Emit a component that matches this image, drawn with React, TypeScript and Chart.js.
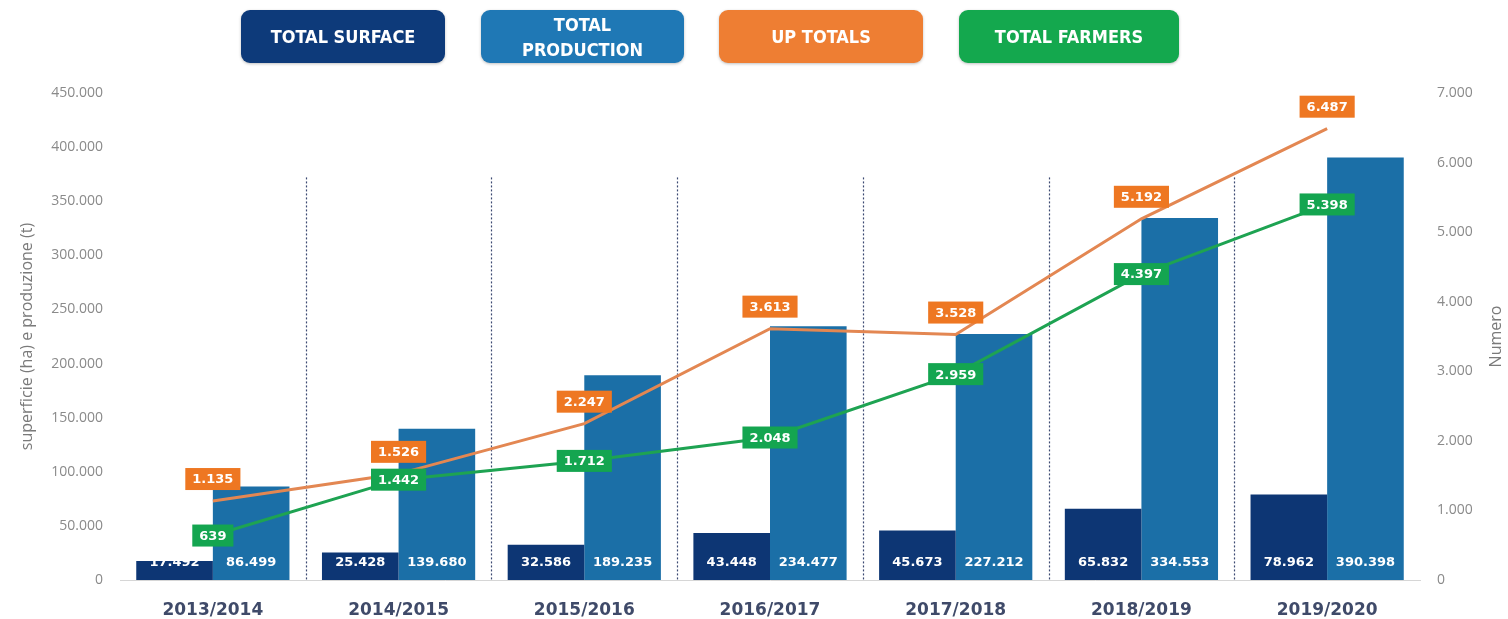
import React, { useEffect, useRef } from "react";
import { Chart, registerables } from "chart.js";

Chart.register(...registerables);

const categories = ["2013/2014", "2014/2015", "2015/2016", "2016/2017", "2017/2018", "2018/2019", "2019/2020"];
const totalSurface = [17492, 25428, 32586, 43448, 45673, 65832, 78962];
const totalProduction = [86499, 139680, 189235, 234477, 227212, 334553, 390398];
const upTotals = [1135, 1526, 2247, 3613, 3528, 5192, 6487];
const totalFarmers = [639, 1442, 1712, 2048, 2959, 4397, 5398];

const seriesNames = ["TOTAL SURFACE", "TOTAL PRODUCTION", "UP TOTALS", "TOTAL FARMERS"];
const legendLabels = ["TOTAL SURFACE", "TOTAL\nPRODUCTION", "UP TOTALS", "TOTAL FARMERS"];
const legendColors = ["#0D3A7A", "#1F78B5", "#EE7E33", "#14A84E"];

const leftTitle = "superficie (ha) e produzione (t)";
const rightTitle = "Numero";

const fmt = (n: number) => String(n).replace(/\B(?=(\d{3})+(?!\d))/g, ".");

const separatorPlugin = {
  id: "separators",
  beforeDatasetsDraw(chart: any) {
    const { ctx, chartArea, scales } = chart;
    const x = scales.x;
    const yTop = scales.y.getPixelForValue(372000);
    ctx.save();
    ctx.strokeStyle = "#3C4A72";
    ctx.lineWidth = 1.2;
    ctx.setLineDash([2, 2]);
    for (let i = 1; i < categories.length; i++) {
      const px = Math.round((x.getPixelForValue(i - 1) + x.getPixelForValue(i)) / 2) + 0.5;
      ctx.beginPath();
      ctx.moveTo(px, yTop);
      ctx.lineTo(px, chartArea.bottom);
      ctx.stroke();
    }
    ctx.restore();
  },
};

const labelPlugin = {
  id: "valueLabels",
  afterDatasetsDraw(chart: any) {
    const ctx = chart.ctx;
    ctx.save();
    ctx.font = "bold 13px 'DejaVu Sans'";
    ctx.textAlign = "center";
    ctx.textBaseline = "middle";
    chart.data.datasets.forEach((ds: any, i: number) => {
      const meta = chart.getDatasetMeta(i);
      meta.data.forEach((el: any, j: number) => {
        const txt = fmt(ds.data[j]);
        if (ds.type === "line") {
          const w = ctx.measureText(txt).width + 14;
          const h = 22;
          const cy = ds.labelAbove ? el.y - 22 : el.y;
          ctx.fillStyle = ds.labelBg;
          ctx.fillRect(el.x - w / 2, cy - h / 2, w, h);
          ctx.fillStyle = "#FFFFFF";
          ctx.fillText(txt, el.x, cy + 1);
        } else {
          ctx.fillStyle = "#FFFFFF";
          ctx.fillText(txt, el.x, el.base - 17);
        }
      });
    });
    ctx.restore();
  },
};

const rightTitlePlugin = {
  id: "rightTitle",
  afterDraw(chart: any) {
    const { ctx, chartArea } = chart;
    ctx.save();
    ctx.translate(1496, (chartArea.top + chartArea.bottom) / 2);
    ctx.rotate(-Math.PI / 2);
    ctx.font = "16px 'Open Sans'";
    ctx.fillStyle = "#7A7A7A";
    ctx.textAlign = "center";
    ctx.textBaseline = "middle";
    ctx.fillText(rightTitle, 0, 0);
    ctx.restore();
  },
};

const legendBoxes = [
  { left: 241, width: 204 },
  { left: 481, width: 203 },
  { left: 719, width: 204 },
  { left: 959, width: 220 },
];

export default function App() {
  const ref = useRef<HTMLCanvasElement>(null);

  useEffect(() => {
    if (!ref.current) return;
    const chart = new Chart(ref.current, {
      type: "bar",
      data: {
        labels: categories,
        datasets: [
          {
            type: "line",
            label: seriesNames[2],
            data: upTotals,
            yAxisID: "y1",
            borderColor: "#E38752",
            borderWidth: 3,
            pointRadius: 0,
            tension: 0,
            order: 1,
            labelBg: "#EE7722",
            labelAbove: true,
          } as any,
          {
            type: "line",
            label: seriesNames[3],
            data: totalFarmers,
            yAxisID: "y1",
            borderColor: "#1EA352",
            borderWidth: 3,
            pointRadius: 0,
            tension: 0,
            order: 0,
            labelBg: "#14A550",
            labelAbove: false,
          } as any,
          {
            type: "bar",
            label: seriesNames[0],
            data: totalSurface,
            yAxisID: "y",
            backgroundColor: "#0D3674",
            barPercentage: 1,
            categoryPercentage: 0.825,
            order: 2,
          },
          {
            type: "bar",
            label: seriesNames[1],
            data: totalProduction,
            yAxisID: "y",
            backgroundColor: "#1B6FA7",
            barPercentage: 1,
            categoryPercentage: 0.825,
            order: 3,
          },
        ],
      },
      options: {
        animation: false,
        responsive: false,
        layout: { padding: { top: 93, left: 0, right: 0, bottom: 0 } },
        plugins: { legend: { display: false }, tooltip: { enabled: false } },
        scales: {
          x: {
            grid: { display: false },
            border: { display: true, color: "#D6D6D6", width: 1 },
            ticks: {
              font: { family: "'DejaVu Sans'", size: 17, weight: "bold" },
              color: "#3F4A69",
              padding: 12,
            },
            afterFit: (s: any) => {
              s.height = 39;
            },
          },
          y: {
            position: "left",
            min: 0,
            max: 450000,
            grid: { display: false, drawTicks: false },
            border: { display: false },
            ticks: {
              stepSize: 50000,
              padding: 17,
              color: "#8A8A8A",
              font: { family: "'Open Sans'", size: 14 },
              callback: (v: any) => fmt(Number(v)),
            },
            title: {
              display: true,
              text: leftTitle,
              color: "#7A7A7A",
              font: { family: "'Open Sans'", size: 16 },
              padding: { top: 18, bottom: 0 },
            },
            afterFit: (s: any) => {
              s.width = 120;
            },
          },
          y1: {
            position: "right",
            min: 0,
            max: 7000,
            grid: { display: false, drawTicks: false },
            border: { display: false },
            ticks: {
              stepSize: 1000,
              padding: 17,
              color: "#8A8A8A",
              font: { family: "'Open Sans'", size: 14 },
              callback: (v: any) => fmt(Number(v)),
            },
            afterFit: (s: any) => {
              s.width = 88;
            },
          },
        },
      },
      plugins: [separatorPlugin, labelPlugin, rightTitlePlugin],
    });
    return () => chart.destroy();
  }, []);

  return (
    <div style={{ position: "absolute", left: 0, top: 0, width: 1508, height: 619, background: "#FFFFFF" }}>
      <canvas ref={ref} width={1508} height={619} style={{ position: "absolute", left: 0, top: 0 }} />
      {legendLabels.map((name, i) => (
        <div
          key={name}
          style={{
            position: "absolute",
            top: 10,
            left: legendBoxes[i].left,
            width: legendBoxes[i].width,
            height: 53,
            borderRadius: 9,
            background: legendColors[i],
            boxShadow: "0 1px 3px rgba(0,0,0,0.25)",
            color: "#FFFFFF",
            display: "flex",
            alignItems: "center",
            justifyContent: "center",
            textAlign: "center",
            whiteSpace: "pre-line",
            fontFamily: "'DejaVu Sans Condensed', 'DejaVu Sans', sans-serif",
            fontStretch: "condensed",
            fontWeight: "bold",
            fontSize: 18,
            lineHeight: "25px",
            padding: "0 2px",
            boxSizing: "border-box",
          }}
        >
          {name}
        </div>
      ))}
    </div>
  );
}
